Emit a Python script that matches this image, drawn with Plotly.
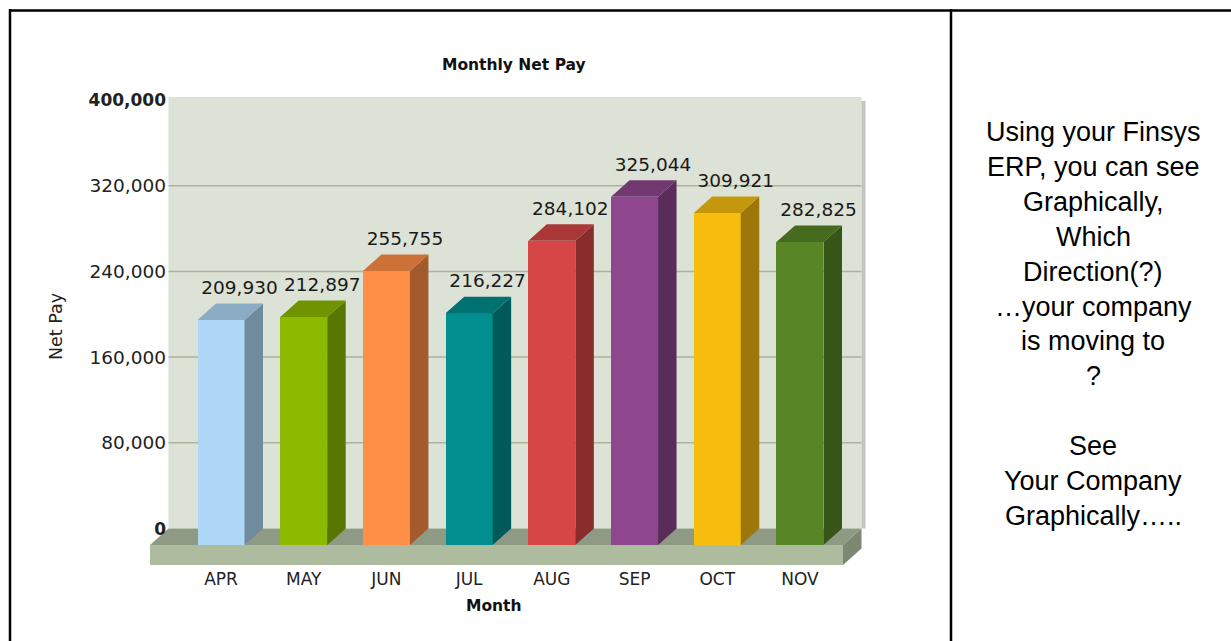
import plotly.graph_objects as go

# ---------------- data ----------------
months = ["APR", "MAY", "JUN", "JUL", "AUG", "SEP", "OCT", "NOV"]
net_pay = [209930, 212897, 255755, 216227, 284102, 325044, 309921, 282825]
bar_colors = ["#AFD8F8", "#8BBA00", "#FF8E46", "#008E8E",
              "#D64646", "#8E468E", "#F6BD0F", "#588526"]
y_tickvals = [0, 80000, 160000, 240000, 320000, 400000]
y_ticktext = ["<b><span style='font-size:17px'>0</span></b>", "80,000", "160,000",
              "240,000", "320,000", "<b><span style='font-size:17px'>400,000</span></b>"]
chart_title = "Monthly Net Pay"
x_title = "Month"
y_title = "Net Pay"
side_lines = ["Using your Finsys", "ERP, you can see", "Graphically,", "Which",
              "Direction(?)", "\u2026your company", "is moving to", "?", "",
              "See", "Your Company", "Graphically\u2026.."]

# ---------------- geometry (pixels -> axis units) ----------------
W, H = 1231, 641
L, R, T, B = 140, 880, 90, 567          # plot area in px
XPX = 82.71                              # px per category
X0 = 221                                 # px of first category
VPP = 933.5                              # value units per px
Y0 = 528.5                               # px of value 0 on back wall


def ux(px):
    return (px - X0) / XPX


def uy(py):
    return (Y0 - py) * VPP


def pxf(px):
    return (px - L) / (R - L)


def pyf(py):
    return (B - py) / (B - T)


n = len(months)
dx = 18.5 / XPX          # depth offset in x
dy = 16.5 * VPP          # depth offset in y
half = 23.5 / XPX        # half bar width
floor_th = 20 * VPP

floor_l = ux(150)
floor_r = ux(843)
wall_l = floor_l + dx
wall_r = floor_r + dx
wall_top = y_tickvals[-1] + 3 * VPP


def shade(hexc, f):
    hexc = hexc.lstrip("#")
    r, g, b = (int(hexc[i:i + 2], 16) for i in (0, 2, 4))
    return "#%02X%02X%02X" % (int(r * f), int(g * f), int(b * f))


def path(pts):
    return "M " + " L ".join(f"{x},{y}" for x, y in pts) + " Z"


shapes = []
# back wall
shapes.append(dict(type="rect", xref="x", yref="y", x0=wall_l, x1=wall_r,
                   y0=0, y1=wall_top, fillcolor="#DCE2D5", line_width=0,
                   layer="below"))
# right shadow of wall
shapes.append(dict(type="rect", xref="x", yref="y", x0=wall_r, x1=wall_r + 4 / XPX,
                   y0=0, y1=wall_top - 4 * VPP, fillcolor="#C2C6BE", line_width=0,
                   layer="below"))
# gridlines
for v in y_tickvals[1:-1]:
    shapes.append(dict(type="line", xref="x", yref="y", x0=wall_l, x1=wall_r,
                       y0=v, y1=v, line=dict(color="#A9B59B", width=1.5),
                       layer="below"))
# floor top
shapes.append(dict(type="path", xref="x", yref="y",
                   path=path([(floor_l, -dy), (floor_r, -dy), (wall_r, 0), (wall_l, 0)]),
                   fillcolor="#8E9A84", line_width=0, layer="below"))
# floor front
shapes.append(dict(type="rect", xref="x", yref="y", x0=floor_l, x1=floor_r,
                   y0=-dy - floor_th, y1=-dy, fillcolor="#ADBB9E", line_width=0,
                   layer="below"))
# floor right side
shapes.append(dict(type="path", xref="x", yref="y",
                   path=path([(floor_r, -dy), (wall_r, 0), (wall_r, -floor_th),
                              (floor_r, -dy - floor_th)]),
                   fillcolor="#7D8873", line_width=0, layer="below"))

# outer table borders
bw = 2.5
shapes.append(dict(type="line", xref="paper", yref="paper", x0=pxf(9), x1=pxf(W + 5),
                   y0=pyf(10.5), y1=pyf(10.5), line=dict(color="black", width=bw)))
shapes.append(dict(type="line", xref="paper", yref="paper", x0=pxf(10), x1=pxf(10),
                   y0=pyf(9), y1=pyf(H + 5), line=dict(color="black", width=bw)))
shapes.append(dict(type="line", xref="paper", yref="paper", x0=pxf(951), x1=pxf(951),
                   y0=pyf(9), y1=pyf(H + 5), line=dict(color="black", width=bw)))

fig = go.Figure()

# front faces
fig.add_trace(go.Bar(x=list(range(n)), y=net_pay, base=-dy, width=2 * half,
                     marker=dict(color=bar_colors, line=dict(width=0)),
                     hoverinfo="skip", showlegend=False))

# side + top faces
for i, (v, c) in enumerate(zip(net_pay, bar_colors)):
    xl, xr = i - half, i + half
    side = [(xr, -dy), (xr + dx, 0), (xr + dx, v), (xr, v - dy), (xr, -dy)]
    top = [(xl, v - dy), (xr, v - dy), (xr + dx, v), (xl + dx, v), (xl, v - dy)]
    fig.add_trace(go.Scatter(x=[p[0] for p in side], y=[p[1] for p in side],
                             fill="toself", fillcolor=shade(c, 0.64), mode="none",
                             hoverinfo="skip", showlegend=False))
    fig.add_trace(go.Scatter(x=[p[0] for p in top], y=[p[1] for p in top],
                             fill="toself", fillcolor=shade(c, 0.8), mode="none",
                             hoverinfo="skip", showlegend=False))

# value labels
label_lift = 5 * VPP
fig.add_trace(go.Scatter(x=[i + dx for i in range(n)], y=[v + label_lift for v in net_pay],
                         mode="text",
                         text=[f"{v:,}" for v in net_pay], textposition="top center",
                         textfont=dict(family="DejaVu Sans", size=18.5, color="#1A1A1A"),
                         hoverinfo="skip", showlegend=False, cliponaxis=False))

annotations = [
    dict(text=f"<b>{chart_title}</b>", x=pxf(514), y=pyf(65), xref="paper", yref="paper",
         xanchor="center", yanchor="middle",
         showarrow=False, font=dict(family="DejaVu Sans", size=15.5, color="#111")),
    dict(text=f"<b>{x_title}</b>", x=pxf(494), y=pyf(606), xref="paper", yref="paper",
         xanchor="center", yanchor="middle",
         showarrow=False, font=dict(family="DejaVu Sans", size=15.5, color="#111")),
    dict(text=y_title, x=pxf(56), y=pyf(327), xref="paper", yref="paper", textangle=-90,
         xanchor="center", yanchor="middle",
         showarrow=False, font=dict(family="DejaVu Sans", size=17.5, color="#222")),
]
for k, line in enumerate(side_lines):
    if not line:
        continue
    annotations.append(dict(text=line, x=pxf(1093), y=pyf(132 + 34.9 * k),
                            xref="paper", yref="paper", showarrow=False,
                            xanchor="center", yanchor="middle",
                            font=dict(family="Liberation Sans", size=27, color="black")))

fig.update_layout(
    width=W, height=H, autosize=False,
    margin=dict(l=L, r=W - R, t=T, b=H - B, pad=0),
    paper_bgcolor="white", plot_bgcolor="white",
    showlegend=False, hovermode=False,
    bargap=0,
    xaxis=dict(range=[ux(L), ux(R)], tickvals=list(range(n)), ticktext=months,
               showgrid=False, zeroline=False, showline=False, ticks="",
               tickfont=dict(family="DejaVu Sans", size=17, color="#222"), fixedrange=True),
    yaxis=dict(range=[uy(B), uy(T)], tickvals=y_tickvals, ticktext=y_ticktext,
               anchor="free", position=pxf(166), side="left",
               showgrid=False, zeroline=False, showline=False, ticks="",
               tickfont=dict(family="DejaVu Sans", size=18.5, color="#222"), fixedrange=True),
    shapes=shapes,
    annotations=annotations,
)

fig.write_html("out.html")
